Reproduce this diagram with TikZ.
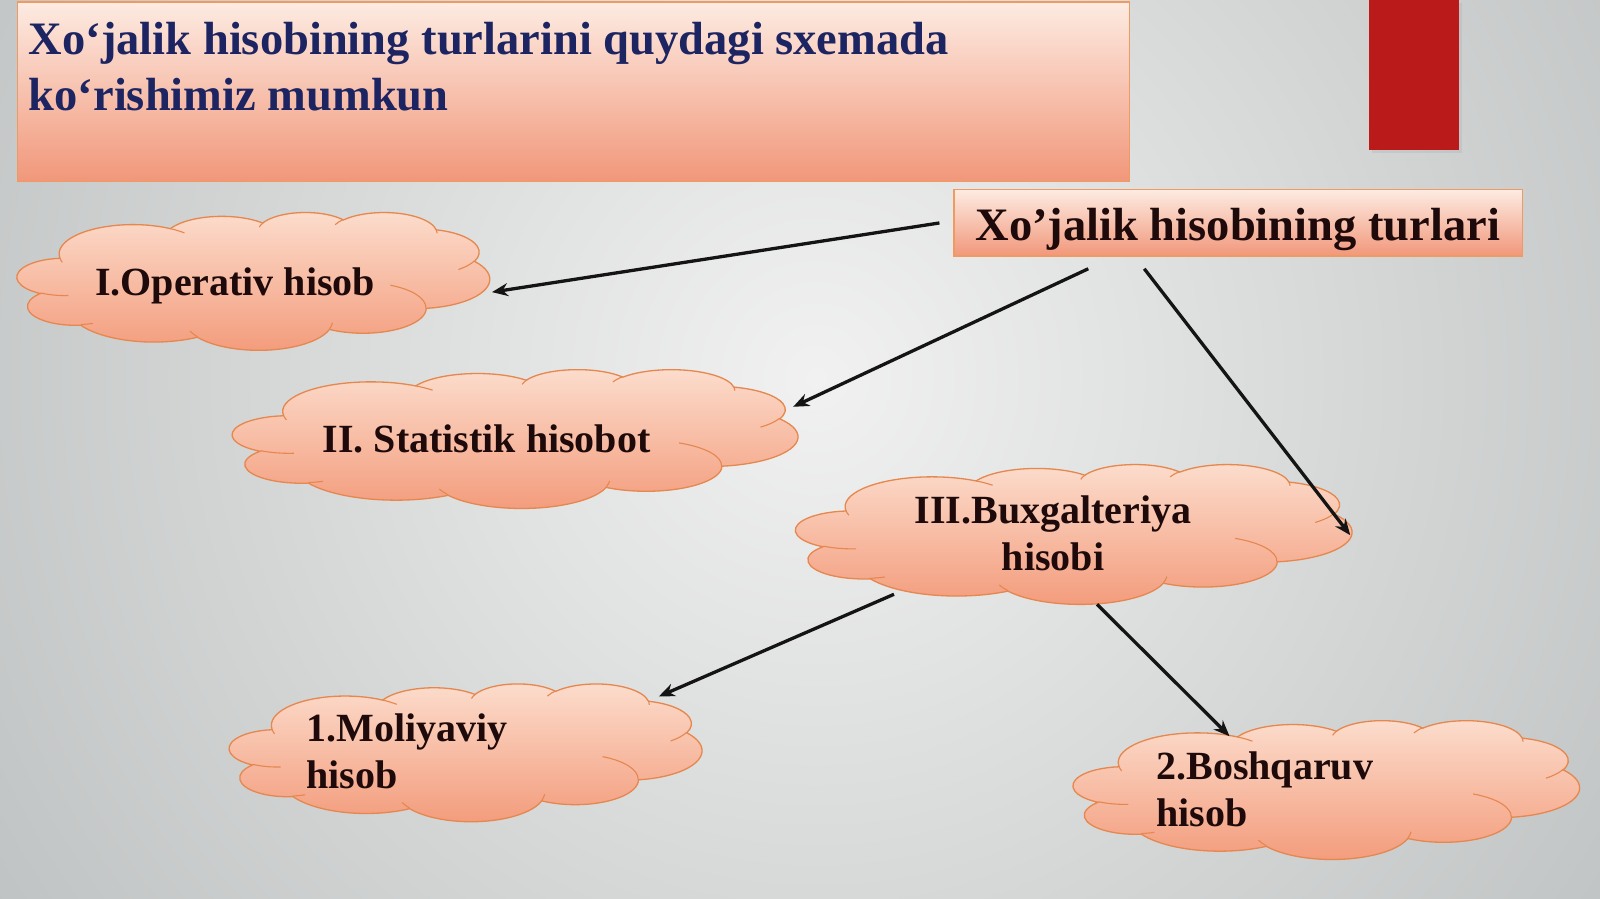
\documentclass[tikz,border=0pt]{standalone}
\usepackage{fontspec}
\setmainfont{Liberation Serif}
\usetikzlibrary{arrows.meta,fit}
\definecolor{bgout}{HTML}{A4A9A9}
\definecolor{bgin}{HTML}{F1F1F1}
\definecolor{boxtop}{HTML}{FDEBE2}
\definecolor{boxbot}{HTML}{F1977A}
\definecolor{boxedge}{HTML}{F09A62}
\definecolor{cloudtop}{HTML}{FCDDCD}
\definecolor{cloudbot}{HTML}{F39B7B}
\definecolor{cloudedge}{HTML}{E5874E}
\definecolor{navy}{HTML}{1C2462}
\definecolor{ink}{HTML}{1E0A0A}
\definecolor{redbar}{HTML}{BA1A1A}
\tikzset{
  titletext/.style={font=\fontsize{46.5}{56}\selectfont\bfseries, text=navy, inner sep=0pt, anchor=base west},
  hdrbox/.style={rectangle, draw=boxedge, line width=1.3pt, top color=boxtop, bottom color=boxbot, inner sep=0pt},
  hdrtext/.style={font=\fontsize{46.5}{56}\selectfont\bfseries, text=ink, inner sep=0pt, anchor=base},
  cloudframe/.style={rectangle, inner sep=0pt},
  cloudfill/.style={draw=cloudedge, line width=1.3pt, top color=cloudtop, bottom color=cloudbot},
  cloudinner/.style={draw=cloudedge, line width=1.1pt},
  cloudtext/.style={font=\fontsize{40}{47}\selectfont\bfseries, text=ink, inner sep=0pt},
  arr/.style={line width=3.3pt, draw=black!92, -{Stealth[length=16pt,width=13pt]}}
}
% PowerPoint-like cloud drawn inside the frame of a named node
\newcommand{\drawpptcloud}[3]{%
\begin{scope}[shift={(#1.north west)}, xscale=#2/432, yscale=#3/432]
\path[cloudfill] (39.00,143.70)
  arc[start angle=-187.75, end angle=-59.60, x radius=67.53, y radius=91.90]
  arc[start angle=-152.03, end angle=-45.46, x radius=53.33, y radius=72.67]
  arc[start angle=-153.50, end angle=-37.32, x radius=43.65, y radius=59.45]
  arc[start angle=-139.71, end angle=-10.21, x radius=48.57, y radius=65.95]
  arc[start angle=-74.77, end angle=23.21, x radius=53.33, y radius=72.73]
  arc[start angle=-37.52, end angle=81.86, x radius=67.75, y radius=92.20]
  arc[start angle=0.46, end angle=121.98, x radius=57.85, y radius=78.67]
  arc[start angle=16.84, end angle=146.22, x radius=67.52, y radius=92.15]
  arc[start angle=58.98, end angle=150.20, x radius=77.20, y radius=105.43]
  arc[start angle=-276.69, end angle=-136.90, x radius=43.60, y radius=59.18]
  arc[start angle=-239.65, end angle=-95.89, x radius=43.45, y radius=59.45]
  -- cycle;
\path[cloudinner]
  (46.93,261.77) arc[start angle=85.55, end angle=120.35, x radius=43.45, y radius=59.45]
  (69.28,348.99) arc[start angle=68.24, end angle=83.31, x radius=43.60, y radius=59.18]
  (164.78,390.90) arc[start angle=146.22, end angle=158.47, x radius=67.52, y radius=92.15]
  (288.27,347.51) arc[start angle=4.74, end angle=16.84, x radius=67.52, y radius=92.15]
  (341.29,229.54) arc[start angle=-64.03, end angle=0.46, x radius=57.85, y radius=78.67]
  (417.98,153.54) arc[start angle=23.21, end angle=49.64, x radius=53.33, y radius=72.73]
  (383.24,54.26) arc[start angle=-10.21, end angle=0.82, x radius=48.57, y radius=65.95]
  (290.78,39.52) arc[start angle=-156.29, end angle=-139.71, x radius=48.57, y radius=65.95]
  (221.41,47.20) arc[start angle=-167.73, end angle=-153.50, x radius=43.65, y radius=59.45]
  (140.00,51.92) arc[start angle=-59.60, end angle=-45.74, x radius=67.53, y radius=91.90]
  (41.27,157.89) arc[start angle=163.20, end angle=172.25, x radius=67.53, y radius=91.90];
\end{scope}}
\begin{document}
\begin{tikzpicture}[x=1.0204pt,y=-1.0204pt]
\useasboundingbox (0,0) rectangle (1568,881);
% background
\fill[bgout] (0,0) rectangle (1568,881);
\begin{scope}
  \clip (0,0) rectangle (1568,881);
  \shade[inner color=bgin, outer color=bgout] (800,370) circle (1500);
\end{scope}
% red bar
\fill[black!30, opacity=0.35] (1345,3) rectangle (1433,150);
\fill[redbar] (1342,0) rectangle (1430,147);
% title box
\path[draw=boxedge, line width=1.3pt, top color=boxtop, bottom color=boxbot] (17,2) rectangle (1107,178);
\node[titletext] (title1) at (28,53) {Xo‘jalik hisobining turlarini quydagi sxemada};
\node[titletext] (title2) at (28,108) {ko‘rishimiz mumkun};
% header
\node[hdrbox, fit={(935,186) (1492,251)}] (hdr) {};
\node[hdrtext] (hdrlabel) at (1213,236) {Xo’jalik hisobining turlari};
% cloud frames
\node[cloudframe, fit={(17,208) (480,343)}] (c1) {};
\node[cloudframe, fit={(228,362) (782,498)}] (c2) {};
\node[cloudframe, fit={(780,455) (1325,592)}] (c3) {};
\node[cloudframe, fit={(225,670) (688,805)}] (c4) {};
\node[cloudframe, fit={(1052,706) (1548,842)}] (c5) {};
\drawpptcloud{c1}{463}{135}
\drawpptcloud{c2}{554}{136}
\drawpptcloud{c3}{545}{137}
\drawpptcloud{c4}{463}{135}
\drawpptcloud{c5}{496}{136}
% cloud texts
\node[cloudtext, anchor=base west] (t1) at (93,290) {I.Operativ hisob};
\node[cloudtext, anchor=base west] (t2) at (316,443) {II. Statistik hisobot};
\node[cloudtext, anchor=base] (t3a) at (1032,513) {III.Buxgalteriya};
\node[cloudtext, anchor=base] (t3b) at (1032,559) {hisobi};
\node[cloudtext, anchor=base west] (t4a) at (300,727) {1.Moliyaviy};
\node[cloudtext, anchor=base west] (t4b) at (300,773) {hisob};
\node[cloudtext, anchor=base west] (t5a) at (1133,764) {2.Boshqaruv};
\node[cloudtext, anchor=base west] (t5b) at (1133,810) {hisob};
% arrows
\draw[arr] ([xshift=-14pt]hdr.west) -- ([xshift=2pt,yshift=-11pt]c1.east);
\draw[arr] ([xshift=-150pt,yshift=-12pt]hdr.south) -- ([xshift=-5pt,yshift=32pt]c2.east);
\draw[arr] ([xshift=-94pt,yshift=-12pt]hdr.south) -- ([xshift=-2pt,yshift=-1pt]c3.east);
\draw[arr] ([xshift=-180pt,yshift=10pt]c3.south) -- ([xshift=193pt,yshift=-13pt]c4.north);
\draw[arr] ([xshift=23pt]c3.south) -- ([xshift=-97pt,yshift=-16pt]c5.north);
\end{tikzpicture}
\end{document}
